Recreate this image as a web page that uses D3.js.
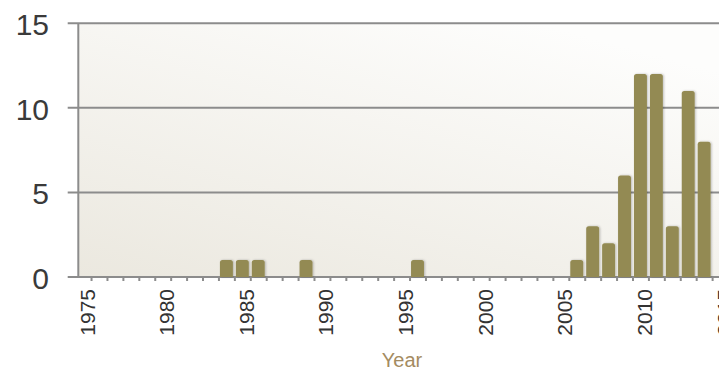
<!DOCTYPE html>
<html>
<head>
<meta charset="utf-8">
<script src="https://cdn.jsdelivr.net/npm/d3@7"></script>
<style>
  html, body { margin: 0; padding: 0; background: #ffffff; }
  svg { display: block; }
  text { font-family: "Liberation Sans", Arial, sans-serif; }
</style>
</head>
<body>
<svg id="chart" width="719" height="369"></svg>
<script>
// Publications per year (bar for year Y covers the interval [Y, Y+1])
const years  = [1983, 1984, 1985, 1988, 1995, 2005, 2006, 2007, 2008, 2009, 2010, 2011, 2012, 2013];
const counts = [1,    1,    1,    1,    1,    1,    3,    2,    6,    12,   12,   3,    11,   8];

const yTicks = [0, 5, 10, 15];
const xTickLabels = [1975, 1980, 1985, 1990, 1995, 2000, 2005, 2010, 2015];
const xTitle = "Year";

const svg = d3.select("#chart");
const W = 719, H = 369;

const plot = { left: 78.3, top: 23.3, bottom: 277, right: 736 };

const x = d3.scaleLinear().domain([1974.2, 2015.5]).range([plot.left, plot.right]);
const y = d3.scaleLinear().domain([0, 15]).range([plot.bottom, plot.top]);

const defs = svg.append("defs");
const grad = defs.append("linearGradient")
  .attr("id", "bg").attr("x1", "0%").attr("y1", "100%").attr("x2", "70%").attr("y2", "0%");
grad.append("stop").attr("offset", "0%").attr("stop-color", "#ebe8df");
grad.append("stop").attr("offset", "100%").attr("stop-color", "#fdfdfc");

const shadow = defs.append("filter").attr("id", "barShadow")
  .attr("x", "-30%").attr("y", "-10%").attr("width", "160%").attr("height", "120%");
shadow.append("feDropShadow").attr("dx", 1).attr("dy", 0).attr("stdDeviation", 1)
  .attr("flood-color", "#000").attr("flood-opacity", 0.25);

// plot background
svg.append("rect")
  .attr("x", plot.left).attr("y", plot.top)
  .attr("width", plot.right - plot.left).attr("height", plot.bottom - plot.top)
  .attr("fill", "url(#bg)");

// horizontal gridlines with left ticks
const grid = svg.append("g");
grid.selectAll("line").data(yTicks).join("line")
  .attr("x1", 67.7).attr("x2", W + 20)
  .attr("y1", d => y(d)).attr("y2", d => y(d))
  .attr("stroke", "#8c8c8c").attr("stroke-width", 2);

// y labels
svg.append("g").selectAll("text").data(yTicks).join("text")
  .attr("x", 49).attr("y", d => y(d) + 1.5)
  .attr("text-anchor", "end").attr("dominant-baseline", "central")
  .attr("font-size", 30).attr("fill", "#3a3a3a")
  .text(d => d);

// bars with rounded tops
const barPad = 1.5, r = 2.5;
function barPath(d, i) {
  const x0 = x(d) + barPad, x1 = x(d + 1) - barPad;
  const y0 = y(counts[i]), yb = y(0);
  return `M${x0},${yb} L${x0},${y0 + r} Q${x0},${y0} ${x0 + r},${y0} L${x1 - r},${y0} Q${x1},${y0} ${x1},${y0 + r} L${x1},${yb} Z`;
}
svg.append("g").attr("filter", "url(#barShadow)")
  .selectAll("path").data(years).join("path")
  .attr("d", barPath)
  .attr("fill", "#938a52");

// x axis: yearly ticks
const xAxis = d3.axisBottom(x)
  .tickValues(d3.range(1975, 2016))
  .tickSize(4)
  .tickFormat("");
const gx = svg.append("g").attr("transform", `translate(0,${plot.bottom})`).call(xAxis);
gx.select(".domain").remove();
gx.selectAll(".tick line").attr("stroke", "#8c8c8c").attr("stroke-width", 2);

// y axis line
svg.append("line")
  .attr("x1", plot.left).attr("x2", plot.left)
  .attr("y1", plot.top).attr("y2", plot.bottom + 1)
  .attr("stroke", "#8c8c8c").attr("stroke-width", 2);

// x labels (rotated)
svg.append("g").selectAll("text").data(xTickLabels).join("text")
  .attr("transform", d => `translate(${x(d)},289) rotate(-90)`)
  .attr("text-anchor", "end").attr("dy", "0.17em")
  .attr("font-size", 21).attr("fill", "#333333")
  .text(d => d);

// axis title
svg.append("text")
  .attr("x", 402).attr("y", 366.5)
  .attr("text-anchor", "middle")
  .attr("font-size", 20).attr("fill", "#a48b61")
  .text(xTitle);
</script>
</body>
</html>
